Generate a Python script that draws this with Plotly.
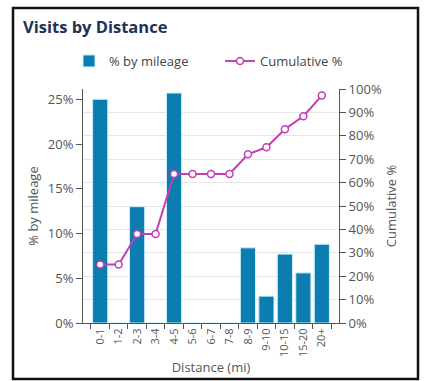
import plotly.graph_objects as go

# Visit share per distance band and the running total
distances = ["0-1", "1-2", "2-3", "3-4", "4-5", "5-6", "6-7", "7-8",
             "8-9", "9-10", "10-15", "15-20", "20+"]
pct_by_mileage = [25.0, 0, 13.0, 0, 25.7, 0, 0, 0, 8.4, 3.0, 7.7, 5.6, 8.8]
cumulative_pct = [25.0, 25.0, 38.0, 38.0, 63.7, 63.7, 63.7, 63.7,
                  72.1, 75.1, 82.8, 88.4, 97.2]

left_ticks = [0, 5, 10, 15, 20, 25]
right_ticks = [0, 10, 20, 30, 40, 50, 60, 70, 80, 90, 100]

BAR = "#0b7db0"
LINE = "#c43fb5"
TICK = "#555555"
FONT = "Open Sans"

fig = go.Figure()
fig.add_trace(go.Bar(
    x=distances, y=pct_by_mileage, name="% by mileage",
    marker=dict(color=BAR, line=dict(color="#cdeef8", width=1)),
))
fig.add_trace(go.Scatter(
    x=distances, y=cumulative_pct, name="Cumulative %", yaxis="y2",
    mode="lines+markers",
    line=dict(color=LINE, width=2),
    marker=dict(symbol="circle", size=7, color="white",
                line=dict(color=LINE, width=1.5)),
))

# Plot area spans x 83..339, y 89..323 px
W, H = 425, 381
L, R, T, B = 83, 339, 89, 323
pw, ph = R - L, B - T

def px(x):
    return (x - L) / pw

def py(y):
    return (B - y) / ph

fig.update_layout(
    width=W, height=H,
    margin=dict(l=L, r=W - R, t=T, b=H - B, autoexpand=False),
    paper_bgcolor="white", plot_bgcolor="white",
    font=dict(family=FONT, color=TICK, size=13),
    bargap=0.18,
    showlegend=True,
    title=dict(text="<b>Visits by Distance</b>", x=23 / W, xanchor="left",
               xref="container", y=1 - 27 / H, yanchor="middle",
               yref="container", automargin=False,
               font=dict(size=16.5, color="#1c3258", family=FONT)),
    legend=dict(orientation="h", x=px(69), xanchor="left", y=py(61),
                yanchor="middle", font=dict(size=13, color="#444444"),
                bgcolor="rgba(0,0,0,0)", entrywidth=106,
                entrywidthmode="pixels"),
    xaxis=dict(
        type="category", tickangle=-90, showgrid=False, automargin=False,
        showline=True, linecolor="#555555", linewidth=1,
        ticks="outside", ticklen=5, tickcolor="#555555",
        tickson="boundaries",
        tickfont=dict(size=11, color=TICK),
        title=dict(text="Distance (mi)", font=dict(size=13, color=TICK),
                   standoff=6),
    ),
    yaxis=dict(
        range=[0, 26.15], tickvals=left_ticks, automargin=False,
        ticktext=[f"{v}%" for v in left_ticks],
        showgrid=False, zeroline=False,
        showline=True, linecolor="#555555", linewidth=1,
        ticks="outside", ticklen=6, tickcolor="#555555",
        tickfont=dict(size=13, color=TICK),
        title=dict(text="% by mileage", font=dict(size=13, color=TICK),
                   standoff=6),
    ),
    yaxis2=dict(
        overlaying="y", side="right", range=[0, 100], automargin=False,
        tickvals=right_ticks, ticktext=[f"{v}%" for v in right_ticks],
        showgrid=True, gridcolor="#e6e6e6", gridwidth=1, zeroline=False,
        showline=True, linecolor="#555555", linewidth=1,
        ticks="outside", ticklen=6, tickcolor="#555555",
        tickfont=dict(size=13, color=TICK),
        title=dict(text="Cumulative %", font=dict(size=13, color=TICK),
                   standoff=6),
    ),
)

# Dark frame around the whole card
fig.add_shape(type="rect", xref="paper", yref="paper",
              x0=px(13), x1=px(418), y0=py(379), y1=py(8),
              line=dict(color="#111111", width=2.5), fillcolor="rgba(0,0,0,0)",
              layer="above")

fig.write_html("out.html")
